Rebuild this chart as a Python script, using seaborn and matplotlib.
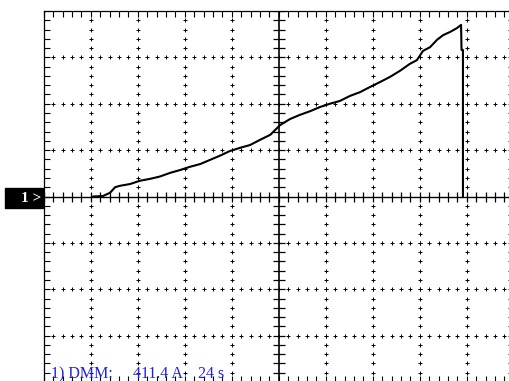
import numpy as np
import pandas as pd
import matplotlib
matplotlib.use("Agg")
import matplotlib.pyplot as plt
import seaborn as sns

# Trace values in screen divisions (x: 0..10, y: -4..4)
trace_x = [1.05, 1.26, 1.41, 1.52, 1.62, 1.84, 2.05, 2.26, 2.47, 2.69, 2.90, 3.11,
           3.33, 3.54, 3.75, 3.96, 4.18, 4.39, 4.60, 4.82, 5.03, 5.24, 5.45, 5.67,
           5.88, 6.09, 6.30, 6.52, 6.73, 6.94, 7.16, 7.37, 7.58, 7.79, 7.94, 8.07,
           8.22, 8.37, 8.50, 8.65, 8.79, 8.88, 8.89, 8.92, 8.92]
trace_y = [0.00, 0.01, 0.08, 0.20, 0.23, 0.27, 0.34, 0.38, 0.43, 0.51, 0.57, 0.64,
           0.70, 0.79, 0.88, 0.98, 1.05, 1.11, 1.22, 1.33, 1.54, 1.67, 1.76, 1.84,
           1.93, 2.00, 2.06, 2.17, 2.25, 2.36, 2.47, 2.58, 2.71, 2.86, 2.94, 3.14,
           3.22, 3.38, 3.48, 3.55, 3.63, 3.70, 3.16, 3.16, 0.00]

channel_label = "1 >"
readout_parts = ["1) DMM:", "411.4 A", "24 s"]

sns.set_style("white")
plt.rcParams['font.family'] = ['Liberation Serif', 'DejaVu Serif']

W, H = 509, 381
fig = plt.figure(figsize=(W / 100, H / 100), dpi=100)
left_px, top_px, right_px, bot_px = 43.7, 11.0, 513.7, 382.0
ax = fig.add_axes([left_px / W, (H - bot_px) / H, (right_px - left_px) / W, (bot_px - top_px) / H])
ax.set_xlim(0, 10)
ax.set_ylim(-4, 4)
ax.set_facecolor("white")

# borders with inward ticks
for s in ax.spines.values():
    s.set_color("black")
    s.set_linewidth(0.9)
ax.set_xticks(np.arange(0, 11, 1))
ax.set_yticks(np.arange(-4, 5, 1))
ax.set_xticks(np.arange(0, 10.01, 0.2), minor=True)
ax.set_yticks(np.arange(-4, 4.01, 0.2), minor=True)
ax.tick_params(which="both", direction="in", top=True, bottom=True, left=True, right=True,
               labelbottom=False, labelleft=False, length=4.2, width=0.8, color="black")

minor = np.arange(0, 10.01, 0.2)
minor_y = np.arange(-4, 4.01, 0.2)

# dotted grid: horizontal rows
for gy in [-3, -2, -1, 1, 2, 3]:
    ax.plot(minor, np.full_like(minor, gy), linestyle="none", marker="+",
            markersize=2.5, markeredgewidth=0.7, color="black", zorder=2)
# dotted grid: vertical columns
for gx in [1, 2, 3, 4, 6, 7, 8, 9]:
    ax.plot(np.full_like(minor_y, gx), minor_y, linestyle="none", marker="+",
            markersize=2.2, markeredgewidth=0.7, color="black", zorder=2)

# center axes with ticks
ax.axhline(0, color="black", linewidth=1.0, zorder=3)
ax.axvline(5, color="black", linewidth=1.2, zorder=3)
ax.plot(minor, np.zeros_like(minor), linestyle="none", marker="|", markersize=7,
        markeredgewidth=0.9, color="black", zorder=3)
ax.plot(np.full_like(minor_y, 5), minor_y, linestyle="none", marker="_", markersize=9,
        markeredgewidth=0.9, color="black", zorder=3)

# trace
df = pd.DataFrame({"x": trace_x, "y": trace_y})
sns.lineplot(data=df, x="x", y="y", ax=ax, estimator=None, sort=False,
             color="black", linewidth=1.5, zorder=5)
ax.set_xlabel("")
ax.set_ylabel("")

# channel marker
fig.patches.append(matplotlib.patches.Rectangle((5 / W, (H - 208) / H), 38 / W, 20 / H,
                                                transform=fig.transFigure, color="black",
                                                zorder=10))
fig.text(41 / W, (H - 198) / H, channel_label, color="white", fontsize=11, fontweight="bold",
         ha="right", va="center", zorder=11)

# readout
xs = [51, 133, 198]
for txt, px in zip(readout_parts, xs):
    fig.text(px / W, (H - 378) / H, txt, color="#2020dd", fontsize=11.5,
             ha="left", va="baseline", zorder=1)

fig.savefig("out.png", dpi=100)
